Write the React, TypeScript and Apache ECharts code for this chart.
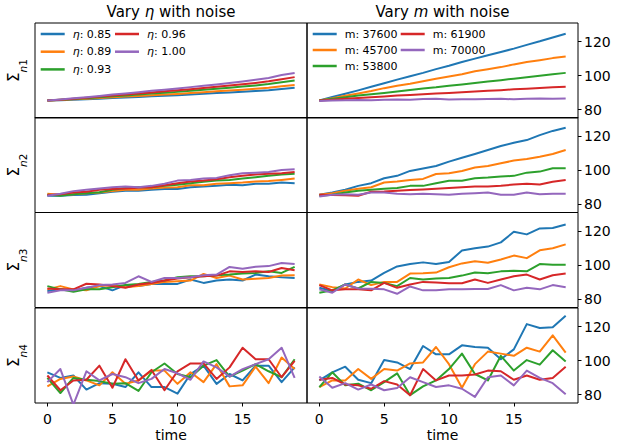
import React, { useEffect, useRef } from "react";
import * as echarts from "echarts";

const TIME = [0, 1, 2, 3, 4, 5, 6, 7, 8, 9, 10, 11, 12, 13, 14, 15, 16, 17, 18, 19];
const X_TICKS = [0, 5, 10, 15];
const Y_TICKS = [80, 100, 120];
const COLORS = ["#1f77b4", "#ff7f0e", "#2ca02c", "#d62728", "#9467bd"];
const ETA_LABELS = ["0.85", "0.89", "0.93", "0.96", "1.00"];
const M_LABELS = ["37600", "45700", "53800", "61900", "70000"];
const ROW_LABELS = ["1", "2", "3", "4"];

// Vary eta (left column), rows Σn1..Σn4, series in ETA_LABELS order
const ETA_N1 = [
  [85.3, 85.5, 85.8, 86.1, 86.4, 86.8, 87.1, 87.4, 87.8, 88.1, 88.4, 88.9, 89.3, 89.7, 90.1, 90.5, 90.9, 91.3, 92.1, 92.8],
  [85.3, 85.6, 86.0, 86.4, 86.8, 87.2, 87.6, 88.0, 88.4, 88.8, 89.2, 89.7, 90.2, 90.7, 91.2, 91.7, 92.3, 92.9, 93.7, 94.4],
  [85.3, 85.7, 86.2, 86.7, 87.2, 87.8, 88.3, 88.8, 89.4, 89.9, 90.4, 91.0, 91.6, 92.2, 92.8, 93.5, 94.2, 95.0, 96.1, 97.1],
  [85.3, 85.8, 86.4, 87.0, 87.6, 88.2, 88.8, 89.4, 90.1, 90.7, 91.3, 92.0, 92.7, 93.4, 94.1, 94.9, 95.7, 96.6, 97.9, 99.1],
  [85.3, 85.9, 86.6, 87.3, 88.0, 88.8, 89.5, 90.2, 91.0, 91.7, 92.4, 93.2, 94.0, 94.8, 95.6, 96.5, 97.5, 98.6, 100.3, 101.5],
];
const ETA_N2 = [
  [84.9, 84.9, 85.3, 85.5, 86.4, 87.2, 87.8, 87.8, 88.4, 88.8, 88.8, 89.9, 90.3, 90.7, 91.3, 91.1, 91.9, 91.9, 92.7, 92.3],
  [86.0, 85.5, 85.8, 86.4, 86.8, 87.6, 88.4, 88.4, 89.2, 89.7, 89.9, 91.1, 91.1, 91.9, 92.3, 92.7, 93.3, 93.5, 94.2, 95.0],
  [85.5, 84.9, 85.8, 86.4, 87.0, 88.4, 89.4, 89.9, 89.9, 90.7, 91.3, 92.3, 93.1, 93.8, 94.2, 95.0, 95.8, 96.6, 97.4, 97.8],
  [85.3, 85.8, 86.8, 87.2, 88.4, 88.8, 89.2, 89.6, 89.9, 91.1, 92.3, 93.3, 93.8, 94.6, 95.8, 96.6, 97.4, 97.8, 98.1, 98.9],
  [84.9, 86.0, 87.6, 88.4, 89.2, 89.9, 90.3, 89.9, 90.7, 91.9, 93.8, 94.2, 95.0, 95.4, 97.0, 98.1, 98.5, 98.9, 100.1, 100.5],
];
const ETA_N3 = [
  [84.7, 85.7, 85.1, 86.6, 87.6, 85.1, 88.2, 87.6, 88.9, 88.9, 88.9, 91.5, 89.5, 90.9, 91.5, 90.9, 94.4, 93.4, 92.8, 92.4],
  [85.7, 87.6, 85.7, 85.1, 87.6, 88.2, 87.0, 87.6, 88.9, 90.1, 90.5, 90.9, 94.8, 92.4, 93.8, 91.5, 91.9, 92.4, 93.8, 94.0],
  [87.6, 85.7, 84.3, 85.7, 85.7, 87.0, 88.2, 88.9, 90.1, 90.9, 92.8, 93.4, 93.4, 94.0, 94.4, 95.0, 95.4, 96.3, 95.4, 98.9],
  [86.2, 85.7, 85.7, 89.0, 88.6, 87.6, 86.6, 88.6, 89.5, 90.9, 92.1, 92.8, 93.4, 93.8, 96.3, 95.9, 96.3, 95.9, 98.3, 96.9],
  [83.7, 85.1, 85.1, 86.6, 88.2, 88.6, 89.5, 93.4, 90.1, 92.4, 92.4, 92.8, 94.0, 94.4, 98.9, 97.9, 99.0, 99.4, 101.2, 100.6],
];
const ETA_N4 = [
  [93.1, 89.8, 91.2, 82.9, 86.7, 86.3, 84.4, 93.1, 84.4, 84.4, 80.5, 92.1, 97.0, 86.3, 92.1, 88.3, 97.0, 97.0, 87.3, 96.0],
  [84.8, 89.2, 90.6, 88.3, 85.4, 93.1, 86.3, 88.3, 94.1, 94.1, 86.3, 93.1, 87.3, 97.9, 84.8, 85.4, 96.4, 86.7, 101.8, 95.0],
  [89.8, 80.9, 89.8, 88.7, 87.9, 86.3, 86.7, 82.1, 93.1, 98.3, 92.1, 90.2, 97.0, 100.3, 90.6, 94.1, 97.9, 93.7, 90.2, 100.8],
  [91.2, 82.5, 88.3, 88.7, 97.0, 84.0, 100.8, 88.3, 94.5, 82.5, 93.7, 98.3, 98.3, 89.2, 96.0, 107.6, 100.8, 100.8, 90.2, 99.9],
  [87.3, 95.0, 74.0, 93.7, 88.3, 92.1, 90.2, 86.7, 89.2, 95.0, 92.5, 88.7, 99.5, 96.0, 90.6, 95.0, 97.9, 100.8, 107.6, 89.8],
];

// Vary m (right column)
const M_N1 = [
  [85.3, 87.4, 89.3, 91.3, 93.4, 95.5, 97.6, 99.6, 101.6, 103.8, 105.8, 108.0, 110.0, 112.0, 113.9, 115.9, 118.1, 120.2, 122.5, 124.7],
  [85.3, 86.6, 88.1, 89.5, 90.9, 92.6, 94.0, 95.2, 96.6, 98.1, 99.4, 100.8, 102.5, 103.8, 105.0, 106.6, 108.0, 109.1, 110.3, 111.3],
  [85.3, 86.3, 87.3, 88.2, 89.0, 89.8, 90.6, 91.5, 92.4, 93.1, 94.0, 94.8, 95.7, 96.5, 97.3, 98.2, 99.0, 99.9, 100.8, 101.6],
  [85.3, 85.8, 86.3, 86.8, 87.3, 87.7, 88.2, 88.6, 89.0, 89.4, 89.8, 90.2, 90.6, 91.0, 91.4, 91.9, 92.3, 92.7, 93.1, 93.4],
  [85.0, 85.3, 85.4, 85.6, 85.5, 85.8, 85.9, 85.7, 86.2, 86.4, 85.9, 86.0, 86.1, 86.2, 86.3, 86.0, 86.4, 86.5, 86.4, 86.5],
];
const M_N2 = [
  [85.5, 86.8, 88.4, 90.7, 92.3, 95.2, 96.6, 99.5, 100.9, 102.4, 105.0, 107.3, 109.5, 111.8, 114.2, 116.1, 117.7, 120.6, 123.1, 124.9],
  [85.5, 86.4, 87.8, 89.0, 89.9, 92.7, 93.3, 94.2, 94.8, 97.7, 98.1, 99.5, 101.5, 102.4, 104.0, 105.6, 106.5, 107.9, 109.5, 111.8],
  [84.9, 85.5, 86.8, 87.8, 88.4, 89.0, 89.4, 90.7, 90.7, 92.3, 93.7, 93.7, 95.2, 95.6, 96.2, 96.6, 98.5, 99.1, 101.1, 101.1],
  [85.5, 85.3, 85.1, 84.9, 87.2, 87.4, 87.8, 88.2, 88.6, 89.0, 89.4, 89.9, 90.3, 90.3, 90.7, 91.5, 91.9, 91.5, 93.1, 94.2],
  [84.5, 85.5, 85.8, 85.5, 86.8, 86.8, 86.0, 85.8, 86.0, 85.8, 85.5, 86.0, 86.4, 86.8, 85.5, 85.5, 86.8, 85.8, 86.0, 86.0],
];
const M_N3 = [
  [86.6, 84.7, 88.6, 90.1, 90.9, 95.4, 99.2, 100.6, 101.6, 100.6, 101.8, 108.6, 109.9, 110.9, 113.4, 119.6, 118.1, 121.6, 121.9, 123.9],
  [88.6, 87.0, 86.2, 91.5, 88.2, 90.1, 90.1, 95.0, 95.2, 95.6, 98.7, 101.0, 102.2, 101.4, 103.3, 105.6, 104.1, 108.7, 109.9, 112.2],
  [83.7, 85.1, 88.6, 86.2, 90.1, 89.5, 87.6, 92.4, 91.5, 92.1, 92.4, 93.8, 95.6, 95.2, 96.3, 96.7, 96.3, 100.6, 100.2, 100.2],
  [88.2, 85.1, 85.7, 85.7, 85.1, 89.5, 86.6, 88.6, 90.1, 89.7, 89.3, 89.3, 91.5, 89.5, 91.5, 93.4, 94.4, 91.5, 94.0, 95.0],
  [85.7, 83.7, 88.6, 86.2, 86.0, 85.7, 83.1, 87.4, 85.1, 85.1, 85.7, 85.7, 85.9, 85.9, 88.2, 85.1, 86.6, 85.7, 88.2, 87.0],
];
const M_N4 = [
  [88.3, 93.1, 96.4, 88.7, 86.7, 100.3, 98.9, 95.0, 108.6, 103.7, 103.7, 109.0, 108.0, 107.6, 100.8, 106.6, 121.5, 119.2, 119.6, 126.5],
  [84.4, 88.3, 88.3, 95.0, 89.2, 95.0, 94.1, 98.3, 98.9, 108.0, 97.9, 84.0, 97.9, 105.3, 104.1, 102.8, 107.6, 105.3, 114.9, 104.7],
  [84.4, 93.1, 85.4, 86.4, 82.5, 87.3, 92.5, 79.6, 84.8, 88.3, 95.0, 104.1, 92.1, 88.3, 102.8, 94.1, 100.3, 97.6, 106.1, 99.5],
  [88.7, 89.8, 85.9, 85.4, 83.4, 87.9, 85.9, 79.6, 95.0, 88.3, 91.2, 91.2, 91.8, 94.1, 93.7, 88.7, 91.2, 88.7, 89.8, 96.4],
  [90.6, 84.0, 86.7, 82.9, 85.9, 82.5, 83.8, 90.2, 87.3, 84.4, 85.4, 83.4, 78.6, 90.2, 91.2, 85.4, 94.1, 89.8, 86.7, 80.2],
];

const ETA_ROWS = [ETA_N1, ETA_N2, ETA_N3, ETA_N4];
const M_ROWS = [M_N1, M_N2, M_N3, M_N4];

const FONT = "DejaVu Sans";
const Y_MIN = 75;
const Y_MAX = 131;
const ROW_TOPS = [23, 117.5, 212.5, 308];
const ROW_H = 95;
const COL_LEFT = [35, 307];
const COL_W = [272, 271];

export default function App() {
  const ref = useRef<HTMLDivElement>(null);
  useEffect(() => {
    if (!ref.current) return;
    const chart = echarts.init(ref.current, undefined, { renderer: "svg" });
    const grids: any[] = [];
    const xAxes: any[] = [];
    const yAxes: any[] = [];
    const series: any[] = [];
    for (let r = 0; r < 4; r++) {
      for (let c = 0; c < 2; c++) {
        const idx = grids.length;
        const bottomRow = r === 3;
        grids.push({
          left: COL_LEFT[c],
          top: ROW_TOPS[r],
          width: COL_W[c],
          height: ROW_H,
          show: true,
          borderColor: "#000",
          borderWidth: 1,
          backgroundColor: "transparent",
          containLabel: false,
        });
        xAxes.push({
          type: "value",
          gridIndex: idx,
          position: "bottom",
          min: -0.95,
          max: 19.95,
          axisLine: { show: false, onZero: false },
          splitLine: { show: false },
          axisTick: bottomRow
            ? { show: true, customValues: X_TICKS, length: 3.5, lineStyle: { color: "#000" } }
            : { show: false },
          axisLabel: bottomRow
            ? { show: true, customValues: X_TICKS, fontSize: 14, fontFamily: FONT, color: "#000", margin: 9 }
            : { show: false },
          name: bottomRow ? "time" : "",
          nameLocation: "middle",
          nameGap: 25,
          nameTextStyle: { fontSize: 14, fontFamily: FONT, color: "#000" },
        });
        const rightCol = c === 1;
        yAxes.push({
          type: "value",
          gridIndex: idx,
          position: rightCol ? "right" : "left",
          min: Y_MIN,
          max: Y_MAX,
          axisLine: { show: false, onZero: false },
          splitLine: { show: false },
          axisTick: rightCol
            ? { show: true, customValues: Y_TICKS, length: 3.5, lineStyle: { color: "#000" } }
            : { show: false },
          axisLabel: rightCol
            ? { show: true, customValues: Y_TICKS, fontSize: 14, fontFamily: FONT, color: "#000", margin: 6 }
            : { show: false },
          name: rightCol ? "" : "{s|Σ}{n|n}{d|" + ROW_LABELS[r] + "}",
          nameLocation: "middle",
          nameRotate: 90,
          nameGap: 7,
          nameTextStyle: {
            color: "#000",
            fontFamily: FONT,
            rich: {
              s: { fontSize: 15, fontFamily: FONT, color: "#000", lineHeight: 22, verticalAlign: "top" },
              n: { fontSize: 10.5, fontFamily: FONT, fontStyle: "italic", color: "#000", lineHeight: 10, verticalAlign: "bottom" },
              d: { fontSize: 10.5, fontFamily: FONT, color: "#000", lineHeight: 10, verticalAlign: "bottom" },
            },
          },
        });
        const rows = c === 0 ? ETA_ROWS : M_ROWS;
        const labels = c === 0 ? ETA_LABELS : M_LABELS;
        const prefix = c === 0 ? "eta" : "m";
        rows[r].forEach((vals, k) => {
          series.push({
            type: "line",
            name: prefix + labels[k],
            xAxisIndex: idx,
            yAxisIndex: idx,
            data: TIME.map((t, i) => [t, vals[i]]),
            showSymbol: false,
            symbol: "none",
            clip: true,
            lineStyle: { color: COLORS[k], width: 2, join: "round" },
            itemStyle: { color: COLORS[k] },
            z: 2 + k,
          });
        });
      }
    }
    const legendBase = {
      orient: "vertical",
      top: 27,
      padding: 0,
      icon: "rect",
      itemWidth: 24,
      itemHeight: 2.5,
      selectedMode: false,
      textStyle: {
        fontSize: 11,
        fontFamily: FONT,
        color: "#000",
        lineHeight: 14,
        padding: [0, 0, 0, 3],
        rich: { i: { fontSize: 11, fontFamily: FONT, fontStyle: "italic", color: "#000" } },
      },
    };
    const etaFmt = (name: string) => "{i|η}: " + name.replace("eta", "");
    const mFmt = (name: string) => "m: " + name.replace("m", "");
    const legends = [
      { ...legendBase, left: 40.7, itemGap: 3.7, data: ETA_LABELS.slice(0, 3).map((l) => "eta" + l), formatter: etaFmt },
      { ...legendBase, left: 115, itemGap: 3.7, data: ETA_LABELS.slice(3).map((l) => "eta" + l), formatter: etaFmt },
      { ...legendBase, left: 312.7, itemGap: 2, data: M_LABELS.slice(0, 3).map((l) => "m" + l), formatter: mFmt },
      { ...legendBase, left: 400.7, itemGap: 2, data: M_LABELS.slice(3).map((l) => "m" + l), formatter: mFmt },
    ];
    const titleRich = { i: { fontSize: 15, fontFamily: FONT, fontStyle: "italic", fill: "#000" } };
    chart.setOption({
      animation: false,
      backgroundColor: "#fff",
      grid: grids,
      xAxis: xAxes,
      yAxis: yAxes,
      legend: legends,
      series,
      graphic: [
        {
          type: "text",
          x: COL_LEFT[0] + COL_W[0] / 2,
          y: 12,
          style: {
            text: "Vary {i|η} with noise",
            rich: titleRich,
            fontSize: 15,
            fontFamily: FONT,
            fill: "#000",
            align: "center",
            verticalAlign: "middle",
          },
        },
        {
          type: "text",
          x: COL_LEFT[1] + COL_W[1] / 2,
          y: 12,
          style: {
            text: "Vary {i|m} with noise",
            rich: titleRich,
            fontSize: 15,
            fontFamily: FONT,
            fill: "#000",
            align: "center",
            verticalAlign: "middle",
          },
        },
      ],
    });
    return () => chart.dispose();
  }, []);
  return (
    <div
      ref={ref}
      style={{ position: "fixed", left: 0, top: 0, width: 638, height: 445, background: "#fff" }}
    />
  );
}
